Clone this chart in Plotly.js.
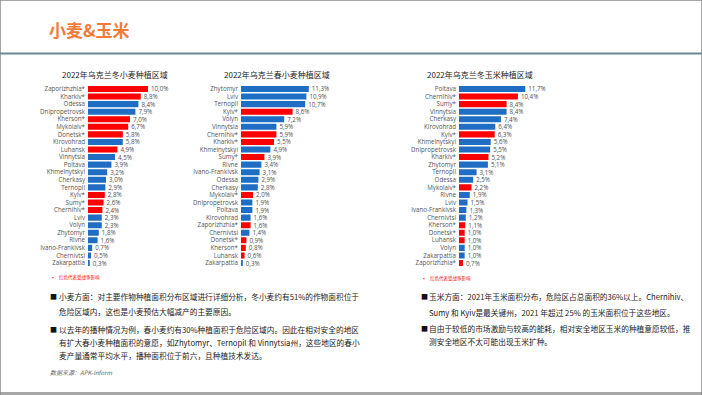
<!DOCTYPE html>
<html>
<head>
<meta charset="utf-8">
<script src="https://cdn.plot.ly/plotly-3.0.1.min.js"></script>
<style>html,body{margin:0;padding:0;background:#fff}#chart{width:702px;height:395px}</style>
</head>
<body>
<div id="chart"></div>
<script>
// Winter wheat
const wwRegions = ["Zaporizhzhia*","Kharkiv*","Odessa","Dnipropetrovsk","Kherson*","Mykolaiv*","Donetsk*","Kirovohrad","Luhansk","Vinnytsia","Poltava","Khmelnytskyi","Cherkasy","Ternopil","Kyiv*","Sumy*","Chernihiv*","Lviv","Volyn","Zhytomyr","Rivne","Ivano-Frankivsk","Chernivtsi","Zakarpattia"];
const wwValues = [10.0,8.8,8.4,7.9,7.0,6.7,5.8,5.8,4.9,4.5,3.9,3.2,3.0,2.9,2.8,2.6,2.4,2.3,2.3,1.8,1.6,0.7,0.5,0.3];
const wwWar = [1,1,0,0,1,1,1,0,1,0,0,0,0,0,1,1,1,0,0,0,0,0,0,0];
// Spring wheat
const swRegions = ["Zhytomyr","Lviv","Ternopil","Kyiv*","Volyn","Vinnytsia","Chernihiv*","Kharkiv*","Khmelnytskyi","Sumy*","Rivne","Ivano-Frankivsk","Odessa","Cherkasy","Mykolaiv*","Dnipropetrovsk","Poltava","Kirovohrad","Zaporizhzhia*","Chernivtsi","Donetsk*","Kherson*","Luhansk","Zakarpattia"];
const swValues = [11.3,10.9,10.7,8.6,7.2,5.9,5.9,5.5,4.9,3.9,3.4,3.1,2.9,2.8,2.0,1.9,1.9,1.6,1.6,1.4,0.9,0.8,0.6,0.3];
const swWar = [0,0,0,1,0,0,1,1,0,1,0,0,0,0,1,0,0,0,1,0,1,1,1,0];
// Corn
const cnRegions = ["Poltava","Chernihiv*","Sumy*","Vinnytsia","Cherkasy","Kirovohrad","Kyiv*","Khmelnytskyi","Dnipropetrovsk","Kharkiv*","Zhytomyr","Ternopil","Odessa","Mykolaiv*","Rivne","Lviv","Ivano-Frankivsk","Chernivtsi","Kherson*","Donetsk*","Luhansk","Volyn","Zakarpattia","Zaporizhzhia*"];
const cnValues = [11.7,10.4,8.4,8.4,7.4,6.4,6.3,5.6,5.5,5.2,5.1,3.1,2.5,2.2,1.9,1.5,1.3,1.2,1.1,1.0,1.0,1.0,1.0,0.7];
const cnWar = [0,1,1,0,0,0,1,0,0,1,0,0,0,1,0,0,0,0,1,1,1,0,0,1];

const chartTitles = ["2022年乌克兰冬小麦种植区域","2022年乌克兰春小麦种植区域","2022年乌克兰冬玉米种植区域"];

const RED = "#FF0000", BLUE = "#1F6EC4";
const FONT = "Noto Sans CJK SC, Noto Sans, sans-serif";
const LFONT = "Open Sans, Noto Sans, sans-serif";
const W = 702, H = 395;
const px = x => x / W, py = y => 1 - y / H;

function mk(regions, values, war, idx) {
  const s = idx === 1 ? "" : String(idx);
  return {
    type: "bar", orientation: "h",
    y: regions, x: values,
    xaxis: "x" + s, yaxis: "y" + s,
    marker: {color: war.map(w => w ? RED : BLUE)},
    text: values.map(v => v.toFixed(1).replace(".", ",") + "%"),
    textposition: "outside", cliponaxis: false, constraintext: "none",
    textfont: {size: 6.2, color: "#505050", family: LFONT},
    hoverinfo: "skip", showlegend: false
  };
}
const data = [mk(wwRegions, wwValues, wwWar, 1), mk(swRegions, swValues, swWar, 2), mk(cnRegions, cnValues, cnWar, 3)];

const yTop = py(85.2), yBot = py(266.8);
function xa(x0, x1) { return {domain: [px(x0), px(x1)], range: [0, 12], visible: false, fixedrange: true}; }
function ya(anchor) {
  return {domain: [yBot, yTop], range: [23.5, -0.5], type: "category", anchor: anchor,
    showgrid: false, zeroline: false, showline: false, ticks: "", ticklen: 0, ticklabelstandoff: 2,
    tickfont: {size: 6.2, color: "#555", family: LFONT}, fixedrange: true};
}

const ann = [];
function txt(x, y, t, size, color, extra) {
  ann.push(Object.assign({xref: "paper", yref: "paper", x: px(x), y: py(y), text: t, showarrow: false,
    xanchor: "left", yanchor: "middle", font: {size: size, color: color, family: FONT}}, extra || {}));
}
// header
txt(47, 30, "<b>小麦&amp;玉米</b>", 17, "#F47A3C");
// chart titles
[115, 277, 480].forEach((cx, i) => txt(cx, 74, chartTitles[i], 8, "#222", {xanchor: "center"}));
// red notes
txt(48, 277, "•", 6, RED); txt(57, 277, "红色代表受战争影响", 4.5, RED);
txt(419, 278, "•", 6, RED); txt(428, 278, "红色代表受战争影响", 4.5, RED);
// left text
const leftLines = [
  [296, "小麦方面：对主要作物种植面积分布区域进行详细分析，冬小麦约有51%的作物面积位于", true],
  [311, "危险区域内，这也是小麦预估大幅减产的主要原因。", false],
  [329, "以去年的播种情况为例，春小麦约有30%种植面积于危险区域内。因此在相对安全的地区", true],
  [342, "有扩大春小麦种植面积的意愿，如Zhytomyr、Ternopil 和 Vinnytsia州，这些地区的春小", false],
  [355, "麦产量通常平均水平，播种面积位于前六，且种植技术发达。", false]
];
leftLines.forEach(l => { if (l[2]) txt(48, l[0], "■", 7, "#111"); txt(57, l[0], l[1], 7.7, "#222"); });
txt(48, 372, "<i>数据来源：APK-Inform</i>", 6, "#666");
const rightLines = [
  [296, "玉米方面：2021年玉米面积分布，危险区占总面积的36%以上。Chernihiv、", true],
  [312, "Sumy 和 Kyiv是最关键州，2021 年超过 25% 的玉米面积位于这些地区。", false],
  [328, "自由于较低的市场激励与较高的能耗，相对安全地区玉米的种植意愿较低，推", true],
  [341, "测安全地区不太可能出现玉米扩种。", false]
];
rightLines.forEach(l => { if (l[2]) txt(419, l[0], "■", 7, "#111"); txt(427, l[0], l[1], 7.7, "#222"); });

const shapes = [
  {type: "rect", xref: "paper", yref: "paper", x0: 0, x1: 1, y0: 0, y1: 1, line: {color: "#8a8a8a", width: 1.5}},
  {type: "line", xref: "paper", yref: "paper", x0: 0, x1: 1, y0: py(53.5), y1: py(53.5), line: {color: "#6F8794", width: 2}},
  {type: "line", xref: "paper", yref: "paper", x0: 0, x1: 1, y0: py(393), y1: py(393), line: {color: "#8a8a8a", width: 1.5}}
];

const layout = {
  width: W, height: H, margin: {l: 0, r: 0, t: 0, b: 0},
  paper_bgcolor: "#fff", plot_bgcolor: "rgba(0,0,0,0)",
  font: {family: FONT}, bargap: 0.2,
  xaxis: xa(88, 160), yaxis: ya("x"),
  xaxis2: xa(241, 313), yaxis2: ya("x2"),
  xaxis3: xa(459, 527), yaxis3: ya("x3"),
  annotations: ann, shapes: shapes
};
Plotly.newPlot("chart", data, layout, {displayModeBar: false, staticPlot: true});
</script>
</body>
</html>
